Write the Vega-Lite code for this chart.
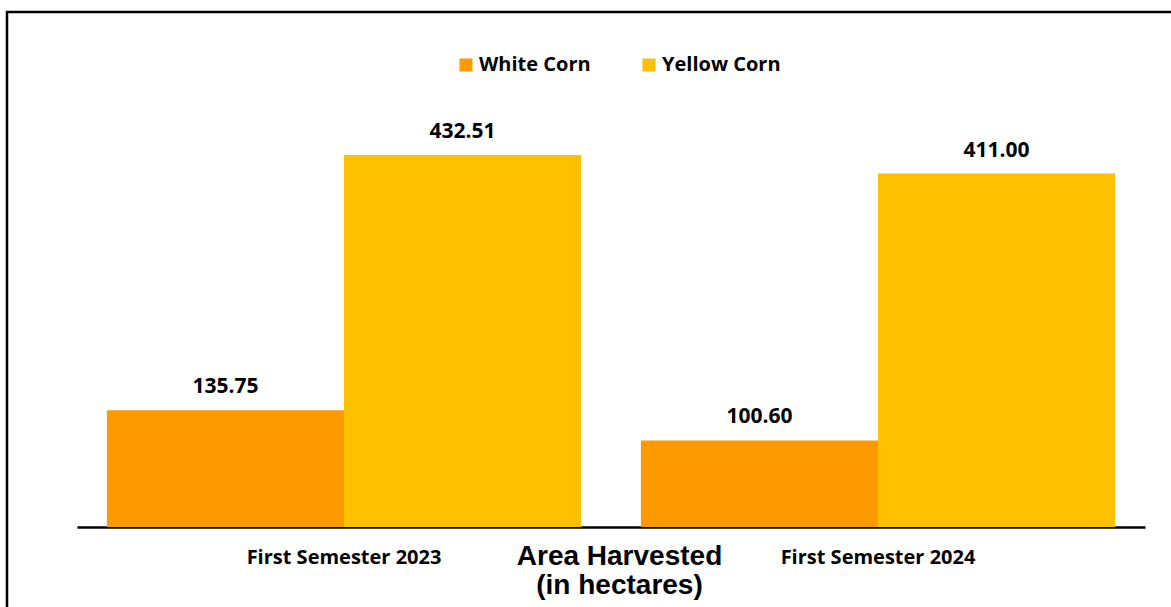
{
  "$schema": "https://vega.github.io/schema/vega-lite/v6.json",
  "width": 1166,
  "height": 600,
  "autosize": "none",
  "padding": {"left": 7, "top": 12, "right": 0, "bottom": 0},
  "background": "white",
  "config": {"view": {"stroke": "#000000", "strokeWidth": 2.5}, "font": "Open Sans"},
  "data": {"values": [
    {"period": "First Semester 2023", "type": "White Corn", "value": 135.75},
    {"period": "First Semester 2023", "type": "Yellow Corn", "value": 432.51},
    {"period": "First Semester 2024", "type": "White Corn", "value": 100.60},
    {"period": "First Semester 2024", "type": "Yellow Corn", "value": 411.00}
  ]},
  "encoding": {
    "x": {
      "field": "period", "type": "nominal", "sort": null,
      "scale": {"range": [70, 1138], "paddingInner": 0.112, "paddingOuter": 0.056},
      "axis": {
        "orient": "bottom", "offset": -85,
        "domainColor": "#000000", "domainWidth": 2.5,
        "ticks": false, "labelAngle": 0, "labelLimit": 400,
        "labelFont": "Open Sans", "labelFontWeight": "bold", "labelFontSize": 20, "labelColor": "#000000",
        "labelPadding": 20,
        "title": ["Area Harvested", "(in hectares)"],
        "titleFont": "Liberation Sans", "titleFontSize": 28, "titleFontWeight": "bold", "titleColor": "#000000",
        "titleX": 612, "titleY": 15, "titleAlign": "center", "titleBaseline": "top", "titleLineHeight": 29
      }
    },
    "xOffset": {"field": "type", "type": "nominal", "sort": ["White Corn", "Yellow Corn"], "scale": {"paddingInner": 0}},
    "y": {"field": "value", "type": "quantitative", "scale": {"domain": [0, 500], "range": [515, 85]}, "axis": null}
  },
  "layer": [
    {
      "mark": {"type": "bar"},
      "encoding": {
        "color": {
          "field": "type", "type": "nominal",
          "scale": {"domain": ["White Corn", "Yellow Corn"], "range": ["#FF9900", "#FFC000"]},
          "legend": {
            "orient": "none", "legendX": 449, "legendY": 43, "direction": "horizontal", "title": null,
            "symbolType": "square", "symbolSize": 169, "symbolStrokeWidth": 0, "symbolOpacity": 1,
            "labelFont": "Open Sans", "labelFontSize": 20, "labelFontWeight": "bold", "labelColor": "#000000",
            "columnPadding": 48, "labelOffset": 3
          }
        }
      }
    },
    {
      "mark": {"type": "text", "baseline": "bottom", "dy": -13, "fontWeight": "bold", "fontSize": 21, "font": "Open Sans", "color": "#000000"},
      "encoding": {"text": {"field": "value", "type": "quantitative", "format": ".2f"}}
    }
  ]
}
